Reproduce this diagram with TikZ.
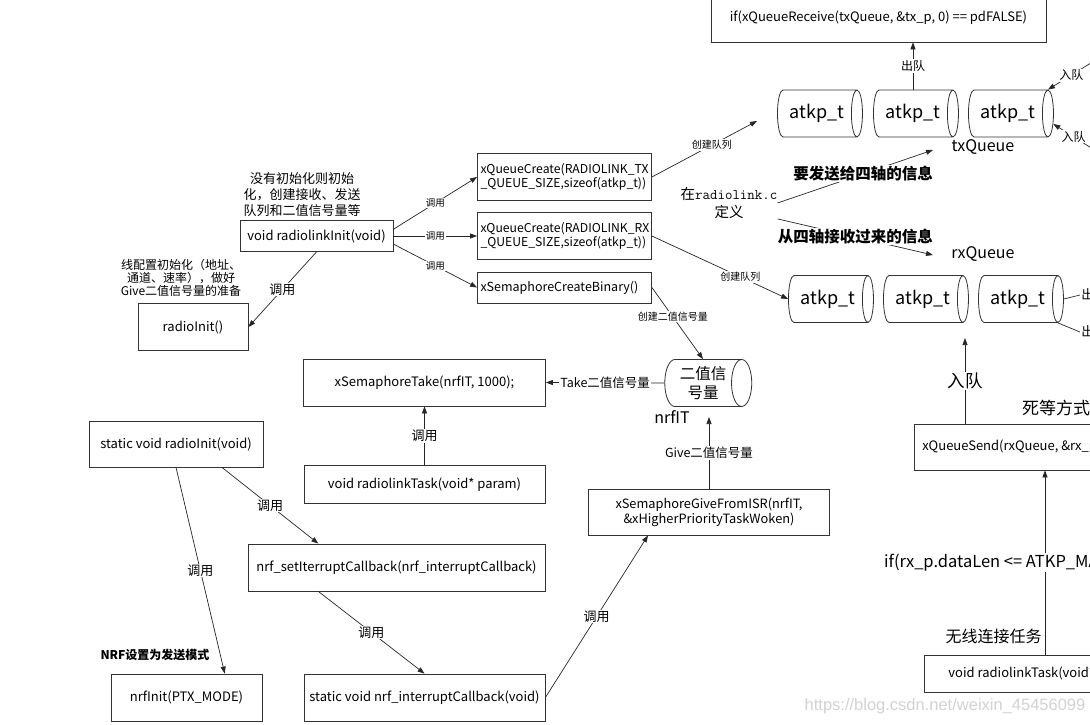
\documentclass[tikz,border=0pt]{standalone}
\usepackage{fontspec}
\setmainfont{Noto Sans CJK SC}
\newfontfamily\wmfont{Liberation Sans}
\usepackage{tikz}
\usetikzlibrary{shapes.geometric}
\usetikzlibrary{positioning, arrows.meta}

\newcommand{\fsz}[2]{\fontsize{#1}{#2}\selectfont}

\tikzset{
    box/.style={draw=black!80, line width=0.8pt, align=center, inner sep=2pt, font=\fsz{13}{15}},
    leftbox/.style={box, text width=168pt, align=left, inner xsep=3pt},
    queue/.style={draw=black!80, line width=0.8pt, cylinder, aspect=0.6, minimum width=47pt, minimum height=85pt, inner sep=0pt, font=\fsz{18}{20}},
    arr/.style={-{Triangle[length=7pt,width=5pt]}, line width=0.7pt, draw=black!85},
    conn/.style={line width=0.7pt, draw=black!85},
    lbl/.style={fill=white, inner sep=1pt},
    note/.style={align=center, inner sep=0pt},
}

\begin{document}
\begin{tikzpicture}[x=1pt, y=-1pt]
    \useasboundingbox (0,0) rectangle (1090,725);

    % send queue
    \node[box, minimum width=335, minimum height=48] (recv) at (878.5,18) {if(xQueueReceive(txQueue, \&tx\_p, 0) == pdFALSE)};
    \node[queue] (tx1) at (817,113.5) {atkp\_t};
    \node[queue] (tx2) at (913,113.5) {atkp\_t};
    \node[queue] (tx3) at (1008,113.5) {atkp\_t};
    \node[font=\fsz{16}{18}] (txql) at (983,147) {txQueue};

    % receive queue
    \node[font=\fsz{16}{18}] (rxql) at (983,254) {rxQueue};
    \node[queue] (rx1) at (828,299) {atkp\_t};
    \node[queue] (rx2) at (923,299) {atkp\_t};
    \node[queue] (rx3) at (1018,299) {atkp\_t};

    % init
    \node[note, font=\fsz{13}{16}] (initnote) at (302,195) {没有初始化则初始\\化，创建接收、发送\\队列和二值信号量等};
    \node[box, minimum width=153, minimum height=31] (rlinit) at (316.5,236) {void radiolinkInit(void)};
    \node[leftbox, minimum height=47, font=\fsz{12.2}{14}] (txq) at (564.5,177) {xQueueCreate(RADIOLINK\_TX\\\_QUEUE\_SIZE,sizeof(atkp\_t))};
    \node[leftbox, minimum height=47, font=\fsz{12.2}{14}] (rxq) at (564.5,236) {xQueueCreate(RADIOLINK\_RX\\\_QUEUE\_SIZE,sizeof(atkp\_t))};
    \node[leftbox, minimum height=31, font=\fsz{12.5}{15}] (semc) at (564.5,287.5) {xSemaphoreCreateBinary()};
    \node[note, font=\fsz{12}{12.8}] (rinitnote) at (181,278) {线配置初始化（地址、\\通道、速率），做好\\Give二值信号量的准备};
    \node[box, minimum width=110, minimum height=47] (rinit) at (193,327) {radioInit()};
    \node[note, font=\fsz{14.5}{18}] (def) at (729,203) {在{\ttfamily\fsz{14.5}{18}radiolink.c}\\定义};

    % semaphore
    \node[queue, minimum height=87, font=\fsz{15.5}{19.5}, align=center] (sem) at (703,383) {二值信\\号量};
    \node[font=\fsz{16}{18}] (nrfit) at (672,417) {nrfIT};
    \node[box, minimum width=242, minimum height=47] (take) at (424.5,382.5) {xSemaphoreTake(nrfIT, 1000);};
    \node[box, minimum width=241, minimum height=38] (rltask) at (424.5,484.5) {void radiolinkTask(void* param)};
    \node[box, minimum width=241, minimum height=46, font=\fsz{12.8}{15}] (give) at (709,512) {xSemaphoreGiveFromISR(nrfIT,\\\&xHigherPriorityTaskWoken)};

    % radio init
    \node[box, minimum width=174, minimum height=46] (srinit) at (176,444) {static void radioInit(void)};
    \node[box, minimum width=297, minimum height=47] (nrfset) at (396.5,567.5) {nrf\_setIterruptCallback(nrf\_interruptCallback)};
    \node[note, font=\bfseries\fsz{12}{14}] (nrfnote) at (155,655) {NRF设置为发送模式};
    \node[box, minimum width=151, minimum height=47] (nrfinit) at (186.5,697.5) {nrfInit(PTX\_MODE)};
    \node[box, minimum width=241, minimum height=47] (intcb) at (424.5,697.5) {static void nrf\_interruptCallback(void)};

    % rx task
    \node[box, anchor=west, minimum width=300, minimum height=46, inner xsep=8pt] (send) at (914,447) {xQueueSend(rxQueue, \&rx\_p, portMAX\_DELAY);};
    \node[note, anchor=west, font=\fsz{17}{19}] (waitnote) at (1022,408) {死等方式放入队列};
    \node[box, minimum width=242, minimum height=37] (rltask2) at (1045,673.5) {void radiolinkTask(void* param)};

    \node[font=\wmfont\fsz{16.5}{18}, text=gray!35] (wm) at (945,706) {https://blog.csdn.net/weixin\_45456099};

    \coordinate (txin) at (757,121);
    \coordinate (enq1) at (1115,48);
    \coordinate (enq2) at (1115,163);
    \coordinate (deq1) at (1080,295);
    \coordinate (deq2) at (1080,332);
    \coordinate (rxin) at (965,338);
    \coordinate (txnote) at (933,150);
    \coordinate (rxnote) at (933,255);

    % connectors
    \draw[arr] (tx2.north) -- (tx2.north |- recv.south) node[midway, lbl, font=\fsz{12}{14}] {出队};
    \draw[arr] (enq1) -- (tx3.before top) node[pos=0.65, lbl, font=\fsz{12}{14}] {入队};
    \draw[arr] (enq2) -- (tx3.-13) node[pos=0.67, lbl, font=\fsz{12}{14}] {入队};
    \draw[conn] (rx3.top) -- (deq1) node[right, lbl, font=\fsz{13}{15}] {出队};
    \draw[conn] (rx3.after top) -- (deq2) node[right, lbl, font=\fsz{13}{15}] {出队};

    \draw[arr] (txq.east) -- (txin) node[pos=0.57, lbl, font=\fsz{10}{12}] {创建队列};
    \draw[arr] (rxq.east) -- (rx1.west) node[pos=0.65, lbl, font=\fsz{10}{12}] {创建队列};
    \draw[arr] (def.east) -- (txnote) node[pos=0.55, lbl, font=\bfseries\fsz{15.5}{18}] {要发送给四轴的信息};
    \draw[arr] (def.south east) -- (rxnote) node[midway, lbl, font=\bfseries\fsz{15.5}{18}] {从四轴接收过来的信息};

    \draw[arr] (rlinit.5) -- (txq.west) node[midway, lbl, font=\fsz{9.5}{11}] {调用};
    \draw[arr] (rlinit.east) -- (rxq.west) node[midway, lbl, font=\fsz{9.5}{11}] {调用};
    \draw[arr] (rlinit.-6) -- (semc.west) node[midway, lbl, font=\fsz{9.5}{11}] {调用};
    \draw[arr] (rlinit.south) -- (rinit.east) node[midway, lbl, font=\fsz{13}{15}] {调用};
    \draw[arr] (semc.east) -- (sem.north) node[pos=0.41, lbl, font=\fsz{10}{12}] {创建二值信号量};
    \draw[arr] (sem.west) -- (take.east) node[midway, lbl, font=\fsz{12.5}{14}] {Take二值信号量};
    \draw[arr] (rltask.north) -- (take.south) node[midway, lbl, font=\fsz{13}{15}] {调用};

    \draw[arr] (srinit.south) -- (nrfinit.32) node[midway, lbl, font=\fsz{13}{15}] {调用};
    \draw[arr] (srinit.-27) -- (nrfset.163) node[midway, lbl, font=\fsz{13}{15}] {调用};
    \draw[arr] (nrfset.197.7) -- (intcb.north) node[midway, lbl, font=\fsz{13}{15}] {调用};
    \draw[arr] (intcb.east) -- (give.201) node[midway, lbl, font=\fsz{13}{15}] {调用};
    \draw[arr] (give.north) -- (give.north |- nrfit) node[midway, lbl, font=\fsz{12.5}{14}] {Give二值信号量};

    \draw[arr] (rltask2.north) -- (rltask2.north |- send.south)
        node[midway, lbl, font=\fsz{16.5}{19}] {if(rx\_p.dataLen <= ATKP\_MAX\_DATA\_SIZE)}
        node[pos=0.1, left, inner sep=3pt, font=\fsz{16}{18}] {无线连接任务};
    \draw[arr] (rxin |- send.north) -- (rxin) node[midway, lbl, font=\fsz{17.5}{20}] {入队};
\end{tikzpicture}
\end{document}
